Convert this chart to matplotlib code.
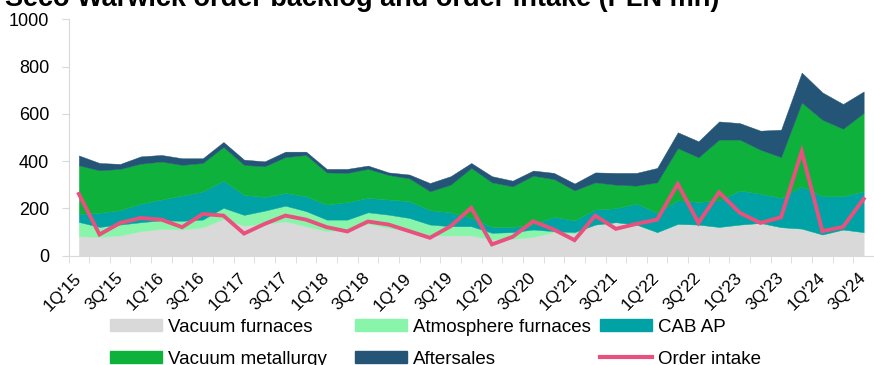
import numpy as np
import matplotlib.pyplot as plt
from matplotlib.patches import Patch
from matplotlib.lines import Line2D

plt.rcParams['font.family'] = ['Liberation Sans', 'DejaVu Sans']

quarters = [f"{q}Q'{y}" for y in range(15, 25) for q in range(1, 5)][:39]

# cumulative tops (PLN mn)
vac_top = [82, 79, 85, 103, 113, 110, 120, 155, 127, 134, 145, 124, 103, 110, 135, 117, 103, 85, 85, 85,
           68, 71, 79, 99, 93, 131, 141, 131, 99, 134, 131, 121, 131, 138, 120, 114, 89, 110, 99]
atm_top = [142, 121, 131, 141, 149, 147, 152, 202, 172, 190, 211, 188, 152, 152, 183, 173, 159, 131, 124, 124,
           96, 99, 110, 103, 99, 131, 141, 131, 99, 134, 131, 121, 131, 138, 120, 114, 89, 110, 99]
cab_top = [176, 181, 192, 220, 237, 254, 271, 317, 257, 248, 265, 251, 216, 226, 244, 237, 230, 192, 183, 159,
           121, 121, 131, 164, 149, 195, 200, 220, 181, 234, 227, 234, 275, 262, 244, 293, 251, 251, 272]
vm_top = [382, 361, 367, 389, 398, 384, 392, 460, 384, 378, 417, 426, 352, 350, 367, 341, 327, 272, 300, 371,
          310, 293, 338, 324, 276, 310, 300, 296, 310, 455, 416, 491, 491, 448, 417, 648, 575, 537, 604]
total = [424, 392, 388, 420, 426, 412, 412, 481, 406, 399, 440, 440, 367, 367, 381, 352, 343, 307, 336, 392,
         336, 317, 360, 350, 305, 352, 350, 350, 371, 522, 484, 568, 561, 529, 533, 775, 691, 642, 695]
order_intake = [261, 89, 138, 159, 152, 120, 176, 169, 93, 134, 169, 152, 120, 102, 144, 131, 103, 75, 124, 202,
                47, 79, 145, 110, 65, 169, 113, 134, 152, 303, 138, 268, 181, 138, 162, 441, 103, 121, 240]

vac_top, atm_top, cab_top, vm_top, total = map(np.array, (vac_top, atm_top, cab_top, vm_top, total))
vacuum_furnaces = vac_top
atmosphere_furnaces = atm_top - vac_top
cab_ap = cab_top - atm_top
vacuum_metallurgy = vm_top - cab_top
aftersales = total - vm_top

names = ['Vacuum furnaces', 'Atmosphere furnaces', 'CAB AP', 'Vacuum metallurgy', 'Aftersales']
colors = ['#d9d9d9', '#88f5aa', '#00a2a6', '#0db13b', '#245577']
line_color = '#e8517e'

fig = plt.figure(figsize=(8.74, 3.65), dpi=100)
ax = fig.add_axes([0.0784, 0.30, 0.9216, 0.6466])

x = np.arange(len(quarters))
ax.stackplot(x, vacuum_furnaces, atmosphere_furnaces, cab_ap, vacuum_metallurgy, aftersales,
             colors=colors, edgecolor='face', linewidth=0.3)
ax.plot(x, order_intake, color=line_color, lw=2.8, solid_joinstyle='miter')

ax.set_xlim(-0.5, 38.05)
ax.set_ylim(0, 1000)
ax.set_yticks(range(0, 1001, 200))
ax.set_xticks(x[::2])
ax.set_xticklabels(quarters[::2], rotation=45, ha='right', va='center', rotation_mode='anchor')
ax.set_xticks(np.arange(-0.5, 39, 1), minor=True)
ax.tick_params(axis='x', which='major', length=0, pad=14.5, labelsize=12.5)
ax.tick_params(axis='x', which='minor', length=5, color='#d9d9d9')
ax.tick_params(axis='y', length=5, color='#d9d9d9', pad=9, labelsize=13)
for s in ['top', 'right']:
    ax.spines[s].set_visible(False)
ax.spines['left'].set_color('#d9d9d9')
ax.spines['bottom'].set_color('#d9d9d9')

fig.text(0.006, 0.9836, 'Seco Warwick order backlog and order intake (PLN mn)',
         fontsize=19.5, fontweight='bold', va='baseline', ha='left')

handles = [Patch(color=c) for c in colors] + [Line2D([], [], color=line_color, lw=3)]
labels = names + ['Order intake']
cols = [(0, 3), (1, 4), (2, 5)]
xs = [110, 355, 600]
for (a, b), xp in zip(cols, xs):
    fig.legend([handles[a], handles[b]], [labels[a], labels[b]], loc='center left',
               bbox_to_anchor=(xp / 874, 1 - 343 / 365), frameon=False, fontsize=13.5,
               borderpad=0, borderaxespad=0, handlelength=2.75, handleheight=0.55,
               handletextpad=0.33, labelspacing=0.8)

fig.savefig('out.png', dpi=100)
